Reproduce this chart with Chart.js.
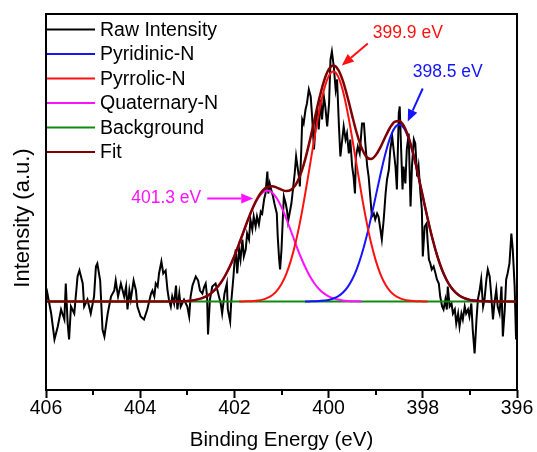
<!DOCTYPE html>
<html>
<head>
<meta charset="utf-8">
<script src="https://cdn.jsdelivr.net/npm/chart.js@4.4.0/dist/chart.umd.min.js"></script>
<style>
  html, body { margin: 0; padding: 0; background: #fff; }
</style>
</head>
<body>
<canvas id="chart" width="537" height="452"></canvas>
<script>
// ---- data ----
const rawEnergy = [
  405.99, 405.97, 405.89, 405.82, 405.75, 405.68, 405.61, 405.58, 405.54, 405.51,
  405.47, 405.40, 405.33, 405.29, 405.22, 405.19, 405.12, 405.05, 404.98, 404.94,
  404.91, 404.85, 404.80, 404.76, 404.69, 404.62, 404.55, 404.52, 404.47, 404.41,
  404.34, 404.30, 404.27, 404.23, 404.20, 404.14, 404.09, 404.06, 403.99, 403.92,
  403.85, 403.77, 403.74, 403.70, 403.67, 403.63, 403.60, 403.55, 403.51, 403.46,
  403.42, 403.39, 403.35, 403.32, 403.28, 403.24, 403.21, 403.17, 403.14, 403.07,
  403.00, 402.96, 402.93, 402.89, 402.82, 402.77, 402.73, 402.68, 402.64, 402.61,
  402.58, 402.56, 402.52, 402.47, 402.40, 402.36, 402.29, 402.26, 402.21, 402.16,
  402.14, 402.09, 402.07, 402.02, 401.99, 401.97, 401.94, 401.90, 401.87, 401.83,
  401.80, 401.76, 401.73, 401.69, 401.66, 401.62, 401.59, 401.55, 401.52, 401.48,
  401.44, 401.41, 401.37, 401.34, 401.30, 401.28, 401.25, 401.22, 401.18, 401.15,
  401.10, 401.08, 401.05, 401.03, 401.00, 400.97, 400.95, 400.91, 400.88, 400.86,
  400.79, 400.75, 400.72, 400.69, 400.67, 400.63, 400.61, 400.58, 400.56, 400.53,
  400.49, 400.46, 400.42, 400.38, 400.35, 400.31, 400.28, 400.24, 400.21, 400.17,
  400.14, 400.10, 400.07, 400.03, 399.99, 399.96, 399.93, 399.89, 399.85, 399.82,
  399.78, 399.75, 399.71, 399.68, 399.64, 399.61, 399.57, 399.54, 399.50, 399.47,
  399.44, 399.42, 399.38, 399.34, 399.29, 399.25, 399.22, 399.18, 399.15, 399.11,
  399.08, 399.04, 399.01, 398.97, 398.94, 398.90, 398.87, 398.83, 398.79, 398.76,
  398.72, 398.69, 398.65, 398.62, 398.58, 398.55, 398.51, 398.49, 398.46, 398.43,
  398.41, 398.37, 398.34, 398.30, 398.26, 398.23, 398.19, 398.16, 398.12, 398.09,
  398.05, 398.02, 398.00, 397.96, 397.92, 397.90, 397.87, 397.84, 397.81, 397.77,
  397.73, 397.70, 397.66, 397.63, 397.59, 397.56, 397.52, 397.49, 397.47, 397.43,
  397.39, 397.36, 397.32, 397.29, 397.25, 397.22, 397.18, 397.15, 397.11, 397.08,
  397.04, 397.01, 396.97, 396.94, 396.90, 396.86, 396.83, 396.79, 396.76, 396.72,
  396.69, 396.65, 396.62, 396.58, 396.55, 396.51, 396.48, 396.44, 396.41, 396.37,
  396.33, 396.30, 396.26, 396.23, 396.20, 396.16, 396.12, 396.09, 396.05, 396.02
];
const rawIntensity = [
  2, 8, -12, -38, -25, -8, -18, 18, -22, -38,
  -5, -12, 25, 31, 18, -5, 2, -12, 5, 35,
  38, 21, -28, -35, -12, 5, 11, 21, 5, 18,
  5, 15, -8, 11, 2, 21, 11, -5, -15, -18,
  -8, 8, 11, 5, 18, 15, 28, 40, 28, 31,
  11, 2, -5, 5, -2, 16, -8, 8, -5, 2,
  -5, -15, 5, 16, 25, 21, 11, 8, 15, 18,
  5, -33, 2, 15, 18, 11, -2, -12, 8, 18,
  -8, -20, -2, 25, 45, 52, 28, 52, 42, 62,
  45, 52, 68, 62, 82, 72, 85, 75, 85, 77,
  90, 88, 102, 108, 130, 108, 118, 112, 105, 98,
  88, 65, 42, 32, 52, 85, 105, 98, 90, 80,
  98, 115, 128, 145, 138, 125, 115, 152, 182, 178,
  192, 198, 212, 205, 185, 152, 175, 195, 172, 202,
  182, 205, 195, 175, 198, 242, 250, 235, 212, 222,
  175, 145, 162, 175, 162, 168, 148, 162, 135, 125,
  108, 145, 155, 148, 178, 178, 158, 135, 125, 102,
  85, 88, 82, 88, 85, 72, 62, 82, 108, 122,
  132, 152, 165, 152, 135, 112, 188, 195, 152, 112,
  135, 118, 152, 168, 95, 135, 162, 158, 125, 135,
  108, 92, 45, 75, 78, 62, 42, 38, 32, 35,
  28, 22, 18, 5, -5, -8, 2, -8, 15, -5,
  -2, -12, -8, -22, -12, -25, -12, -18, -5, -12,
  -8, -15, -2, -28, -52, -18, 2, 12, 22, -5,
  2, 22, 32, 25, 8, -18, -2, 12, -5, -12,
  15, -35, -8, 22, 28, 38, 68, 52, 15, -38
];

// energy grid shared by the fitted curves (eV)
const curveEnergy = [
  403.3, 403.2, 403.1, 403.0, 402.9, 402.8, 402.7, 402.6, 402.5, 402.4,
  402.3, 402.2, 402.1, 402.0, 401.9, 401.8, 401.7, 401.6, 401.5, 401.4,
  401.3, 401.2, 401.1, 401.0, 400.9, 400.8, 400.7, 400.6, 400.5, 400.4,
  400.3, 400.2, 400.1, 400.0, 399.9, 399.8, 399.7, 399.6, 399.5, 399.4,
  399.3, 399.2, 399.1, 399.0, 398.9, 398.8, 398.7, 398.6, 398.5, 398.4,
  398.3, 398.2, 398.1, 398.0, 397.9, 397.8, 397.7, 397.6, 397.5, 397.4,
  397.3, 397.2, 397.1, 397.0, 396.9, 396.8, 396.7, 396.6, 396.5
];
// 403.3 -> 399.3 eV
const quaternaryN = [
  0.1, 0.2, 0.3, 0.6, 1.1, 1.9, 3.1, 5.1, 8.1, 12.3,
  18.0, 25.5, 34.7, 45.5, 57.7, 70.5, 83.0, 94.3, 103.2, 109.0,
  111, 109.0, 103.2, 94.3, 83.0, 70.5, 57.7, 45.5, 34.7, 25.5,
  18.0, 12.3, 8.1, 5.1, 3.1, 1.9, 1.1, 0.6, 0.3, 0.2, 0.1
];
// 401.9 -> 397.9 eV
const pyrrolicN = [
  0, 0.1, 0.2, 0.5, 1.0, 1.9, 3.6, 6.3, 10.7, 17.5,
  27.4, 41.1, 58.9, 81.1, 106.9, 135.1, 163.6, 189.9, 211.2, 225.1,
  230, 225.1, 211.2, 189.9, 163.6, 135.1, 106.9, 81.1, 58.9, 41.1,
  27.4, 17.5, 10.7, 6.3, 3.6, 1.9, 1.0, 0.5, 0.2, 0.1, 0
];
// 400.5 -> 396.5 eV
const pyridinicN = [
  0, 0.1, 0.2, 0.4, 0.9, 1.6, 3.0, 5.2, 8.8, 14.2,
  22.0, 32.7, 46.7, 63.8, 83.6, 105.1, 126.8, 146.7, 162.8, 173.4,
  177, 173.4, 162.8, 146.7, 126.8, 105.1, 83.6, 63.8, 46.7, 32.7,
  22.0, 14.2, 8.8, 5.2, 3.0, 1.6, 0.9, 0.4, 0.2, 0.1, 0
];
const envelopeFit = [
  0.1, 0.2, 0.3, 0.6, 1.1, 1.9, 3.1, 5.1, 8.1, 12.3,
  18.0, 25.5, 34.7, 45.5, 57.7, 70.6, 83.2, 94.8, 104.2, 110.9,
  114.6, 115.3, 113.9, 111.8, 110.4, 111.6, 116.6, 126.6, 141.6, 160.7,
  181.8, 202.6, 220.2, 231.8, 236.1, 232.2, 221.1, 204.7, 185.9, 168.0,
  153.7, 144.9, 142.5, 146.2, 154.2, 164.2, 173.5, 179.7, 180.6, 175.3,
  163.8, 147.2, 127.0, 105.2, 83.6, 63.8, 46.7, 32.7, 22.0, 14.2,
  8.8, 5.2, 3.0, 1.6, 0.9, 0.4, 0.2, 0.1, 0
];
const backgroundEnergy = [406, 396];
const backgroundIntensity = [0, 0];

const xTickValues = [406, 404, 402, 400, 398, 396];

// peak callouts: label, arrow tip in data units
const peakLabels = ['401.3 eV', '399.9 eV', '398.5 eV'];
const peakTipEnergy = [401.6, 399.72, 398.32];
const peakTipIntensity = [103, 236, 180];

// ---- helpers ----
const FONT = '"Liberation Sans", Arial, sans-serif';

function toPoints(xs, ys) {
  return ys.map((y, i) => ({ x: xs[i], y: y }));
}

const fitPoints = [{ x: 406, y: 0 }]
  .concat(toPoints(curveEnergy, envelopeFit))
  .concat([{ x: 396, y: 0 }]);

function lineSet(label, data, color, width, order) {
  return {
    label: label,
    data: data,
    borderColor: color,
    backgroundColor: color,
    borderWidth: width,
    pointRadius: 0,
    tension: 0,
    fill: false,
    order: order
  };
}

const datasets = [
  lineSet('Raw Intensity', toPoints(rawEnergy, rawIntensity), '#000000', 2, 5),
  lineSet('Pyridinic-N', toPoints(curveEnergy.slice(28), pyridinicN), '#1414ff', 2, 2),
  lineSet('Pyrrolic-N', toPoints(curveEnergy.slice(14, 55), pyrrolicN), '#ff1010', 2, 1),
  lineSet('Quaternary-N', toPoints(curveEnergy.slice(0, 41), quaternaryN), '#ff10ff', 2, 3),
  lineSet('Background', toPoints(backgroundEnergy, backgroundIntensity), '#108a10', 2.2, 4),
  lineSet('Fit', fitPoints, '#800000', 2.5, 0)
];
datasets.forEach(d => { if (d.label !== 'Raw Intensity') d.cubicInterpolationMode = 'monotone'; });

// callout layout (pixels, relative to arrow tip)
const calloutColors = ['#ff10ff', '#ff1010', '#1414ff'];
const calloutTail = [[-46, 0], [26, -22], [15, -33]];
const calloutText = [[-87, 0], [66, -32], [40, -49]];

function drawArrow(ctx, x1, y1, x2, y2, color) {
  const ang = Math.atan2(y2 - y1, x2 - x1);
  const headLen = 12, headW = 5;
  const bx = x2 - headLen * Math.cos(ang), by = y2 - headLen * Math.sin(ang);
  ctx.strokeStyle = color;
  ctx.fillStyle = color;
  ctx.lineWidth = 2;
  ctx.beginPath();
  ctx.moveTo(x1, y1);
  ctx.lineTo(bx, by);
  ctx.stroke();
  ctx.beginPath();
  ctx.moveTo(x2, y2);
  ctx.lineTo(bx + headW * Math.sin(ang), by - headW * Math.cos(ang));
  ctx.lineTo(bx - headW * Math.sin(ang), by + headW * Math.cos(ang));
  ctx.closePath();
  ctx.fill();
}

const decorPlugin = {
  id: 'decor',
  afterDraw(chart) {
    const { ctx, chartArea: a, scales } = chart;
    const xs = scales.x, ys = scales.y;
    ctx.save();

    // frame
    ctx.strokeStyle = '#000';
    ctx.lineWidth = 2;
    ctx.strokeRect(a.left, a.top, a.right - a.left, a.bottom - a.top);

    // minor ticks
    ctx.lineWidth = 2;
    for (let v = 397; v <= 405; v += 2) {
      const px = Math.round(xs.getPixelForValue(v));
      ctx.beginPath();
      ctx.moveTo(px, a.bottom);
      ctx.lineTo(px, a.bottom + 5);
      ctx.stroke();
    }

    // y axis title
    ctx.fillStyle = '#000';
    ctx.font = '22px ' + FONT;
    ctx.textAlign = 'center';
    ctx.textBaseline = 'alphabetic';
    ctx.translate(29, 218);
    ctx.rotate(-Math.PI / 2);
    ctx.fillText('Intensity (a.u.)', 0, 0);
    ctx.setTransform(1, 0, 0, 1, 0, 0);

    // legend inside the plot
    ctx.font = '19.5px ' + FONT;
    ctx.textAlign = 'left';
    ctx.textBaseline = 'middle';
    chart.data.datasets.forEach((ds, i) => {
      const y = 29.5 + i * 24.5;
      ctx.strokeStyle = ds.borderColor;
      ctx.lineWidth = 2;
      ctx.beginPath();
      ctx.moveTo(a.left + 1, y);
      ctx.lineTo(a.left + 49, y);
      ctx.stroke();
      ctx.fillStyle = '#000';
      ctx.fillText(ds.label, a.left + 54, y + 1);
    });

    // peak callouts
    ctx.font = '17.5px ' + FONT;
    ctx.textAlign = 'center';
    peakLabels.forEach((lbl, i) => {
      const tx = xs.getPixelForValue(peakTipEnergy[i]);
      const ty = ys.getPixelForValue(peakTipIntensity[i]);
      drawArrow(ctx, tx + calloutTail[i][0], ty + calloutTail[i][1], tx, ty, calloutColors[i]);
      ctx.fillStyle = calloutColors[i];
      ctx.fillText(lbl, tx + calloutText[i][0], ty + calloutText[i][1]);
    });

    ctx.restore();
  }
};

new Chart(document.getElementById('chart'), {
  type: 'line',
  data: { datasets: datasets },
  options: {
    responsive: false,
    animation: false,
    layout: { padding: { top: 14, right: 20, left: 0, bottom: 0 } },
    scales: {
      x: {
        type: 'linear',
        reverse: true,
        min: 396,
        max: 406,
        afterFit: (s) => { s.height = 62; },
        border: { display: false },
        grid: {
          drawOnChartArea: false,
          tickLength: 8,
          tickWidth: 2,
          tickColor: (c) => (c.tick && xTickValues.includes(c.tick.value)) ? '#000' : 'rgba(0,0,0,0)'
        },
        ticks: {
          stepSize: 1,
          padding: -1,
          color: '#000',
          font: { family: FONT, size: 19.5 },
          maxRotation: 0,
          autoSkip: false,
          callback: (v) => xTickValues.includes(v) ? String(v) : ''
        },
        title: {
          display: true,
          text: 'Binding Energy (eV)',
          color: '#000',
          font: { family: FONT, size: 20.5 },
          padding: { top: 0, bottom: -1 }
        }
      },
      y: {
        min: -88.5,
        max: 287.5,
        afterFit: (s) => { s.width = 46; },
        border: { display: false },
        grid: { display: false },
        ticks: { display: false }
      }
    },
    plugins: {
      legend: { display: false },
      tooltip: { enabled: false }
    }
  },
  plugins: [decorPlugin]
});
</script>
</body>
</html>
